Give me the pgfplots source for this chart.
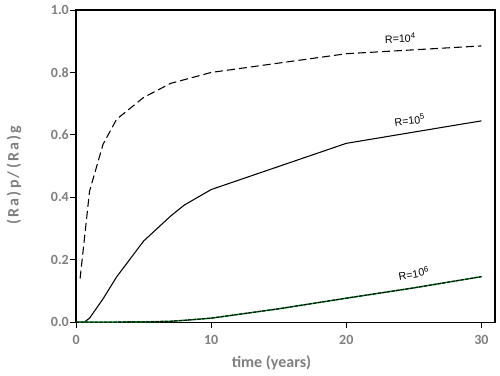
\documentclass[border=0pt]{standalone}
\usepackage{fontspec}
\setmainfont{Carlito}
\newfontfamily\arialfont{Liberation Sans}
\usepackage{pgfplots}
\pgfplotsset{compat=1.18}
\definecolor{tickgray}{RGB}{127,127,127}
\definecolor{lgreen}{RGB}{0,140,40}
\begin{document}
\begin{tikzpicture}
\begin{axis}[
  scale only axis,
  width=314pt, height=234pt,
  xmin=0, xmax=31, ymin=0, ymax=1,
  xtick={0,10,20,30}, ytick={0,0.2,0.4,0.6,0.8,1.0},
  /pgf/number format/assume math mode=true,
  tick label style={font=\bfseries\fontsize{10.5}{12}\selectfont, text=tickgray},
  tick align=outside, tick pos=left,
  major tick length=4.5pt,
  axis line style={black, line width=0.9pt},
  every tick/.style={black, line width=0.7pt},
  yticklabel style={/pgf/number format/fixed, /pgf/number format/fixed zerofill, /pgf/number format/precision=1, inner sep=1pt, xshift=0.3pt},
  xticklabel style={inner sep=1pt, yshift=-4pt},
  clip=false,
]
\addplot[black, line width=0.8pt, dash pattern=on 6pt off 3pt] coordinates {
(0.3,0.14) (1,0.42) (2,0.57) (3,0.65) (5,0.72) (7,0.765) (10,0.80) (20,0.86) (30,0.885)};
\addplot[black, line width=0.8pt] coordinates {
(0,0) (0.6,0) (1,0.013) (2,0.075) (3,0.145) (5,0.26) (7,0.34) (8,0.375) (10,0.425) (20,0.573) (30,0.645)};
\addplot[lgreen, line width=1.1pt] coordinates {
(0,0) (5,0.001) (7,0.003) (8,0.006) (10,0.013) (15,0.043) (20,0.077) (25,0.11) (30,0.146)};
\addplot[black, line width=0.8pt, dash pattern=on 2.5pt off 1pt] coordinates {
(0,0) (5,0.001) (7,0.003) (8,0.006) (10,0.013) (15,0.043) (20,0.077) (25,0.11) (30,0.146)};
\node[font=\arialfont\fontsize{8}{9.5}\selectfont, rotate=2] at (axis cs:24.0,0.91) {R=10\textsuperscript{4}};
\node[font=\arialfont\fontsize{8}{9.5}\selectfont, rotate=8] at (axis cs:24.7,0.647) {R=10\textsuperscript{5}};
\node[font=\arialfont\fontsize{8}{9.5}\selectfont, rotate=10] at (axis cs:25.0,0.157) {R=10\textsuperscript{6}};
\coordinate (bl) at (rel axis cs:0,0);
\coordinate (tr) at (rel axis cs:1,1);
\coordinate (ym) at (rel axis cs:0,0.5);
\coordinate (xm) at (rel axis cs:0.5,0);
\end{axis}
\node[rotate=90, font=\bfseries\fontsize{12}{14}\selectfont\addfontfeature{LetterSpace=14}, text=tickgray] at ([xshift=-46.5pt, yshift=-6.75pt]ym) {(Ra)p/(Ra)g};
\node[font=\bfseries\fontsize{12}{14}\selectfont, text=tickgray] at ([xshift=-10.5pt, yshift=-30.75pt]xm) {time (years)};
\path[use as bounding box] ([xshift=-57pt, yshift=-40pt]bl) rectangle ([xshift=3.75pt, yshift=7.5pt]tr);
\end{tikzpicture}
\end{document}
